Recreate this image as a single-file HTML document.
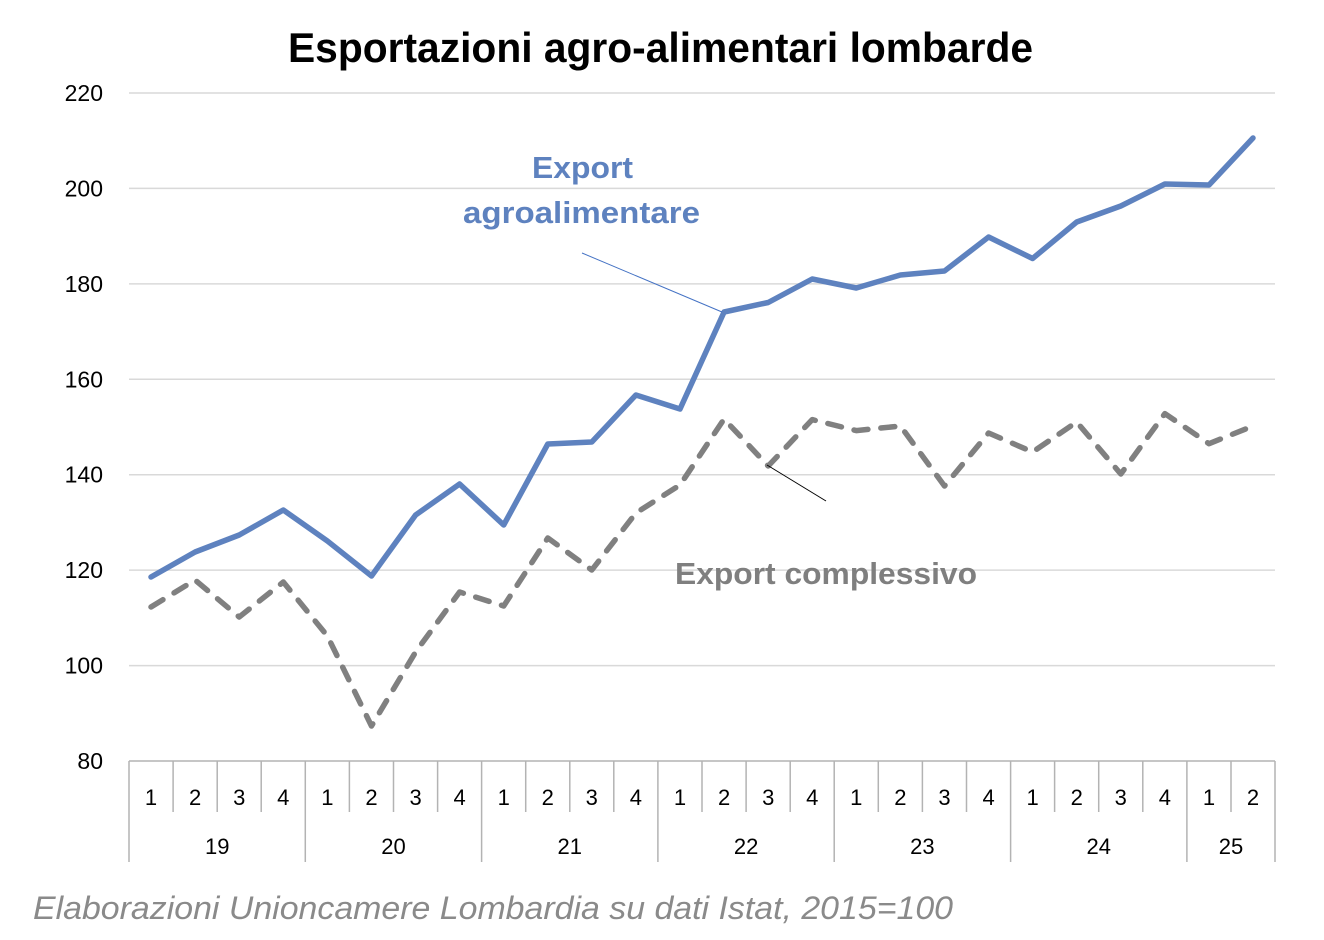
<!DOCTYPE html>
<html>
<head>
<meta charset="utf-8">
<style>
  html,body{margin:0;padding:0;background:#fff;}
  svg{display:block;}
</style>
</head>
<body>
<svg width="1324" height="940" viewBox="0 0 1324 940" xmlns="http://www.w3.org/2000/svg" font-family="'Liberation Sans', sans-serif">
  <rect width="1324" height="940" fill="#fff"/>
  <!-- Title -->
  <text x="288" y="62" font-size="42" font-weight="bold" fill="#000" textLength="745" lengthAdjust="spacingAndGlyphs">Esportazioni agro-alimentari lombarde</text>

  <!-- Gridlines -->
  <g stroke="#d9d9d9" stroke-width="1.5">
    <line x1="129" y1="93" x2="1275" y2="93"/>
    <line x1="129" y1="188.4" x2="1275" y2="188.4"/>
    <line x1="129" y1="283.9" x2="1275" y2="283.9"/>
    <line x1="129" y1="379.3" x2="1275" y2="379.3"/>
    <line x1="129" y1="474.7" x2="1275" y2="474.7"/>
    <line x1="129" y1="570.1" x2="1275" y2="570.1"/>
    <line x1="129" y1="665.6" x2="1275" y2="665.6"/>
  </g>

  <!-- Y labels -->
  <g font-size="23" fill="#000" text-anchor="end">
    <text x="103" y="101">220</text>
    <text x="103" y="196.4">200</text>
    <text x="103" y="291.9">180</text>
    <text x="103" y="387.3">160</text>
    <text x="103" y="482.7">140</text>
    <text x="103" y="578.1">120</text>
    <text x="103" y="673.6">100</text>
    <text x="103" y="769">80</text>
  </g>

  <!-- X axis -->
  <g stroke="#b3b3b3" stroke-width="1.5">
    <line x1="129" y1="761" x2="1275" y2="761"/>
    <line x1="129" y1="761" x2="129" y2="862"/>
    <line x1="305.3" y1="761" x2="305.3" y2="862"/>
    <line x1="481.6" y1="761" x2="481.6" y2="862"/>
    <line x1="657.9" y1="761" x2="657.9" y2="862"/>
    <line x1="834.2" y1="761" x2="834.2" y2="862"/>
    <line x1="1010.6" y1="761" x2="1010.6" y2="862"/>
    <line x1="1186.9" y1="761" x2="1186.9" y2="862"/>
    <line x1="1275" y1="761" x2="1275" y2="862"/>
    <line x1="173.1" y1="761" x2="173.1" y2="812"/>
    <line x1="217.2" y1="761" x2="217.2" y2="812"/>
    <line x1="261.2" y1="761" x2="261.2" y2="812"/>
    <line x1="349.4" y1="761" x2="349.4" y2="812"/>
    <line x1="393.5" y1="761" x2="393.5" y2="812"/>
    <line x1="437.6" y1="761" x2="437.6" y2="812"/>
    <line x1="525.7" y1="761" x2="525.7" y2="812"/>
    <line x1="569.8" y1="761" x2="569.8" y2="812"/>
    <line x1="613.8" y1="761" x2="613.8" y2="812"/>
    <line x1="702.0" y1="761" x2="702.0" y2="812"/>
    <line x1="746.1" y1="761" x2="746.1" y2="812"/>
    <line x1="790.2" y1="761" x2="790.2" y2="812"/>
    <line x1="878.3" y1="761" x2="878.3" y2="812"/>
    <line x1="922.4" y1="761" x2="922.4" y2="812"/>
    <line x1="966.5" y1="761" x2="966.5" y2="812"/>
    <line x1="1054.6" y1="761" x2="1054.6" y2="812"/>
    <line x1="1098.7" y1="761" x2="1098.7" y2="812"/>
    <line x1="1142.8" y1="761" x2="1142.8" y2="812"/>
    <line x1="1231.0" y1="761" x2="1231.0" y2="812"/>
  </g>

  <!-- Quarter labels -->
  <g font-size="22" fill="#000" text-anchor="middle">
    <text x="151.0" y="805">1</text>
    <text x="195.1" y="805">2</text>
    <text x="239.2" y="805">3</text>
    <text x="283.3" y="805">4</text>
    <text x="327.4" y="805">1</text>
    <text x="371.5" y="805">2</text>
    <text x="415.6" y="805">3</text>
    <text x="459.6" y="805">4</text>
    <text x="503.7" y="805">1</text>
    <text x="547.8" y="805">2</text>
    <text x="591.8" y="805">3</text>
    <text x="635.9" y="805">4</text>
    <text x="680.0" y="805">1</text>
    <text x="724.1" y="805">2</text>
    <text x="768.2" y="805">3</text>
    <text x="812.2" y="805">4</text>
    <text x="856.3" y="805">1</text>
    <text x="900.4" y="805">2</text>
    <text x="944.5" y="805">3</text>
    <text x="988.6" y="805">4</text>
    <text x="1032.6" y="805">1</text>
    <text x="1076.7" y="805">2</text>
    <text x="1120.8" y="805">3</text>
    <text x="1164.9" y="805">4</text>
    <text x="1209.0" y="805">1</text>
    <text x="1253.0" y="805">2</text>
  </g>
  <!-- Year labels -->
  <g font-size="22" fill="#000" text-anchor="middle">
    <text x="217.2" y="854">19</text>
    <text x="393.5" y="854">20</text>
    <text x="569.8" y="854">21</text>
    <text x="746.1" y="854">22</text>
    <text x="922.4" y="854">23</text>
    <text x="1098.7" y="854">24</text>
    <text x="1231.0" y="854">25</text>
  </g>

  <!-- Gray dashed series (Export complessivo) -->
  <polyline fill="none" stroke="#808080" stroke-width="5.5" stroke-linecap="round" stroke-linejoin="round" stroke-dasharray="14 13"
    points="151.0,607 195.1,580 239.2,617 283.3,582 327.4,636 371.5,726 415.6,652 459.6,592 503.7,606 547.8,538 591.8,570 635.9,513 680.0,485 724.1,419 768.2,466 812.2,419.6 856.3,430.6 900.4,426 944.5,486 988.6,433 1032.6,452 1076.7,422 1120.8,474 1164.9,413.6 1209.0,443.7 1253.0,426"/>

  <!-- Blue series (Export agroalimentare) -->
  <polyline fill="none" stroke="#5e82bf" stroke-width="5.5" stroke-linecap="round" stroke-linejoin="round"
    points="151.0,577 195.1,552 239.2,535 283.3,510 327.4,541 371.5,576 415.6,515 459.6,484 503.7,525 547.8,444 591.8,442 635.9,395 680.0,409 724.1,312 768.2,302.5 812.2,279 856.3,288 900.4,275 944.5,271 988.6,237 1032.6,258.5 1076.7,222 1120.8,206 1164.9,184 1209.0,185 1253.0,138"/>

  <!-- Leader lines -->
  <line x1="582" y1="253" x2="722" y2="312" stroke="#4472c4" stroke-width="1"/>
  <line x1="767" y1="465" x2="826" y2="501" stroke="#000" stroke-width="1"/>

  <!-- Series labels -->
  <text x="532" y="178" font-size="31" font-weight="bold" fill="#5e82bf" textLength="101" lengthAdjust="spacingAndGlyphs">Export</text>
  <text x="463" y="223" font-size="31" font-weight="bold" fill="#5e82bf" textLength="237" lengthAdjust="spacingAndGlyphs">agroalimentare</text>
  <text x="675" y="584" font-size="31" font-weight="bold" fill="#7f7f7f" textLength="302" lengthAdjust="spacingAndGlyphs">Export complessivo</text>

  <!-- Footer -->
  <text x="33" y="919" font-size="32" font-style="italic" fill="#8a8a8a" textLength="920" lengthAdjust="spacingAndGlyphs">Elaborazioni Unioncamere Lombardia su dati Istat, 2015=100</text>
</svg>
</body>
</html>
